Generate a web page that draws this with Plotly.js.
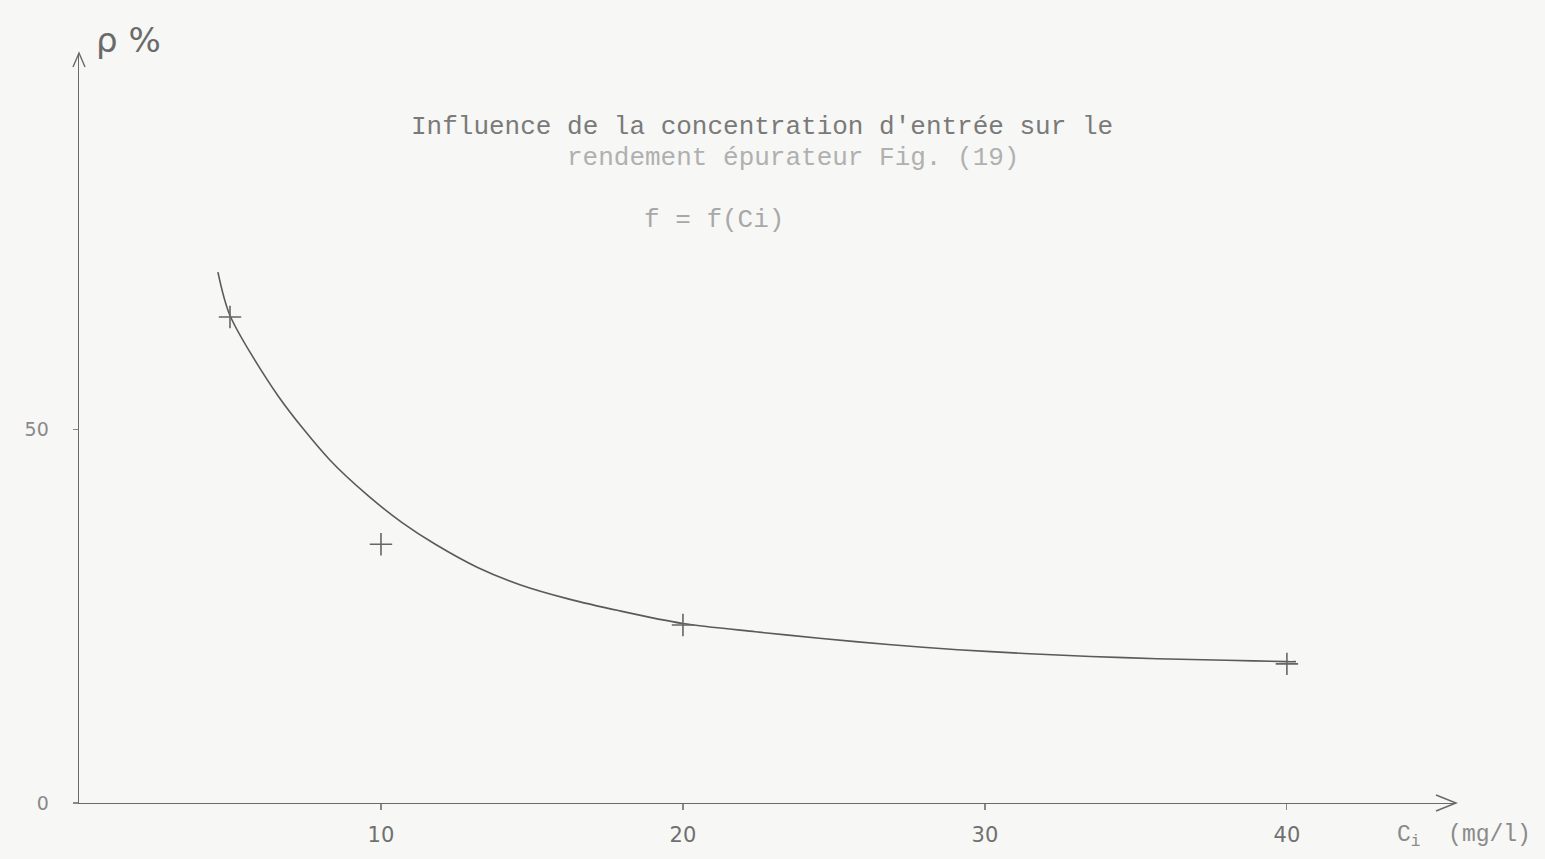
<!DOCTYPE html>
<html>
<head>
<meta charset="utf-8">
<script src="https://cdn.plot.ly/plotly-3.0.1.min.js"></script>
<style>html,body{margin:0;padding:0;background:#f7f7f5;}#chart{width:1545px;height:859px;}</style>
</head>
<body>
<div id="chart"></div>
<script>
// Measured points (crosses)
var pointsX = [5, 10, 20, 40];
var pointsY = [65.0, 34.6, 23.8, 18.6];

// Hand-drawn fitted curve, read along its path
var curveX = [4.6, 5.0, 6.6, 8.3, 9.6, 10.7, 11.8, 13.2, 14.6, 16.2, 17.9, 20.0, 22.4, 24.6, 26.8, 29.1, 31.3, 33.5, 35.7, 38.0, 40.0, 40.3];
var curveY = [71.0, 65.2, 54.4, 45.9, 41.0, 37.5, 34.6, 31.5, 29.2, 27.3, 25.7, 24.0, 22.9, 22.0, 21.2, 20.5, 20.0, 19.6, 19.3, 19.1, 18.9, 18.9];

var xTickVals = [10, 20, 30, 40];
var xTickText = ['10', '20', '30', '40'];
var yTickVals = [0, 50];
var yTickText = ['0', '50'];

var xMax = 45.6, yMax = 100.3;
var gray = '#6a6a6a';
var plotW = 1377, plotH = 750;

var traces = [
  {x: curveX, y: curveY, mode: 'lines', line: {color: '#5a5a5a', width: 1.6, shape: 'spline', smoothing: 0.8}, hoverinfo: 'skip', showlegend: false},
  {x: pointsX, y: pointsY, mode: 'markers', marker: {symbol: 'cross-thin', size: 16, line: {color: '#666', width: 1.6}}, showlegend: false}
];

var mono = 'Liberation Mono, DejaVu Sans Mono, monospace';

// arrowheads in paper units (sized in pixels)
var ax1 = 1 - 20 / plotW, ay1 = 8 / plotH;
var bx1 = 6 / plotW, by1 = 1 - 14 / plotH;

var layout = {
  width: 1545, height: 859,
  paper_bgcolor: '#f7f7f5', plot_bgcolor: 'rgba(0,0,0,0)',
  margin: {l: 79, r: 89, t: 53, b: 56},
  showlegend: false,
  xaxis: {range: [0, xMax], showgrid: false, zeroline: false, showline: true, linecolor: gray, linewidth: 1.4,
    tickvals: xTickVals, ticktext: xTickText, ticks: 'outside', ticklen: 6, tickcolor: '#888', tickwidth: 1.2,
    ticklabelstandoff: 6,
    tickfont: {family: 'DejaVu Sans, sans-serif', size: 21, color: '#707070'}},
  yaxis: {range: [0, yMax], showgrid: false, zeroline: false, showline: true, linecolor: gray, linewidth: 1.4,
    tickvals: yTickVals, ticktext: yTickText, ticks: 'outside', ticklen: 5, tickcolor: '#888', tickwidth: 1.2,
    ticklabelstandoff: 20,
    tickfont: {family: 'DejaVu Sans, sans-serif', size: 19, color: '#8a8a8a'}},
  shapes: [
    {type: 'path', xref: 'paper', yref: 'paper', line: {color: gray, width: 1.5},
     path: 'M' + ax1 + ',' + ay1 + ' L1,0 L' + ax1 + ',' + (-ay1)},
    {type: 'path', xref: 'paper', yref: 'paper', line: {color: gray, width: 1.4},
     path: 'M' + (-bx1) + ',' + by1 + ' L0,1 L' + bx1 + ',' + by1}
  ],
  annotations: [
    {xref: 'paper', yref: 'paper', xanchor: 'center', yanchor: 'middle', x: (762 - 79) / plotW, y: 1 - (127 - 53) / plotH,
     text: "Influence de la concentration d'entrée sur le", showarrow: false,
     font: {family: mono, size: 26, color: '#7a7a7a'}},
    {xref: 'paper', yref: 'paper', xanchor: 'center', yanchor: 'middle', x: (793 - 79) / plotW, y: 1 - (158 - 53) / plotH,
     text: 'rendement épurateur Fig. (19)', showarrow: false,
     font: {family: mono, size: 26, color: '#b0b0b0'}},
    {xref: 'paper', yref: 'paper', xanchor: 'center', yanchor: 'middle', x: (714 - 79) / plotW, y: 1 - (220 - 53) / plotH,
     text: 'f = f(Ci)', showarrow: false,
     font: {family: mono, size: 26, color: '#a8a8a8'}},
    {xref: 'paper', yref: 'paper', xanchor: 'left', yanchor: 'middle', x: (94 - 79) / plotW, y: 1 - (40 - 53) / plotH,
     text: 'ρ %', showarrow: false,
     font: {family: 'DejaVu Sans, sans-serif', size: 34, color: '#6a6a6a'}},
    {xref: 'paper', yref: 'paper', xanchor: 'left', yanchor: 'middle', x: (1395 - 79) / plotW, y: 1 - (837 - 53) / plotH,
     text: 'C<sub>i</sub>  (mg/l)', showarrow: false,
     font: {family: mono, size: 23, color: '#8a8a8a'}}
  ]
};

Plotly.newPlot('chart', traces, layout, {displayModeBar: false, staticPlot: true});
</script>
</body>
</html>
